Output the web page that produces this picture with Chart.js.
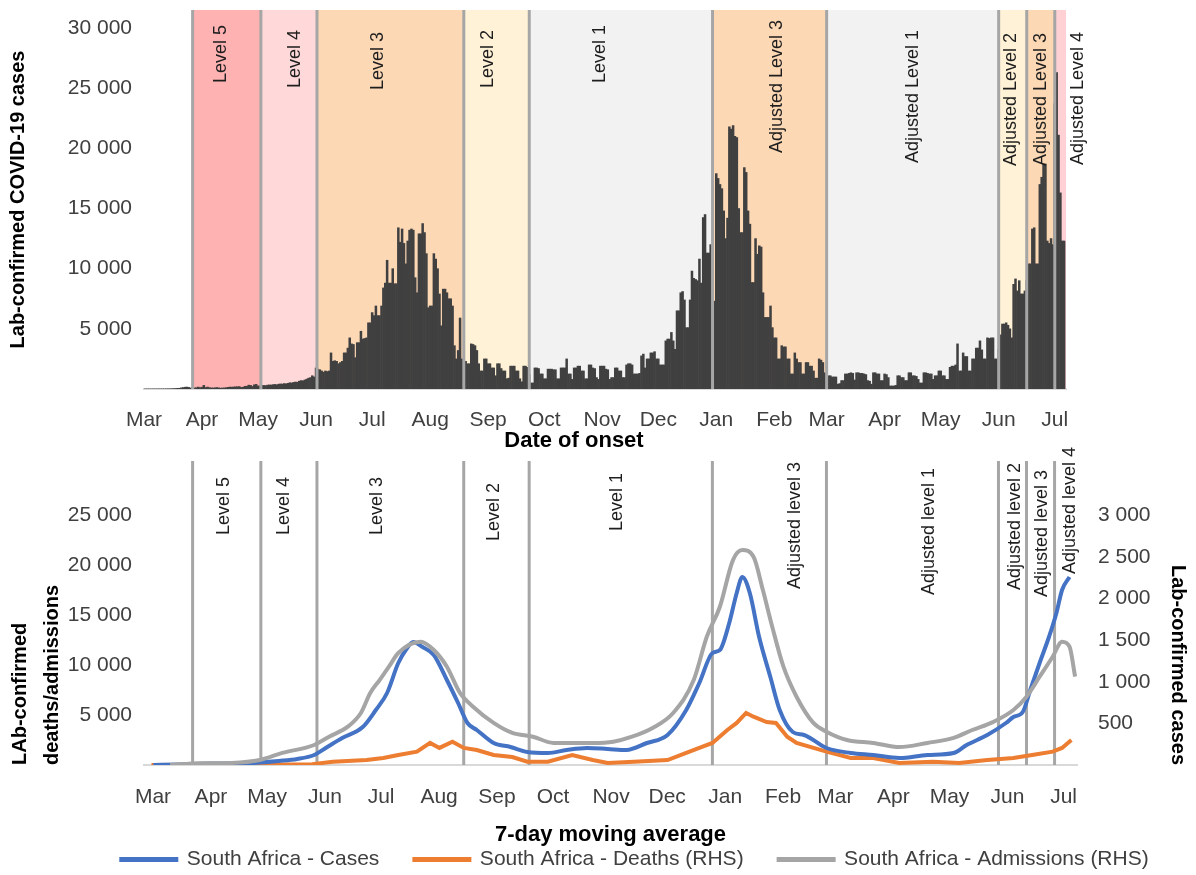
<!DOCTYPE html>
<html>
<head>
<meta charset="utf-8">
<script src="https://cdn.jsdelivr.net/npm/chart.js@4.4.1/dist/chart.umd.min.js"></script>
<style>
  html, body { margin: 0; padding: 0; background: #fff; overflow: hidden; }
  #wrap { position: relative; width: 1196px; height: 875px; }
  #topChart { position: absolute; left: 0; top: 0; }
  #bottomChart { position: absolute; left: 0; top: 440px; }
</style>
</head>
<body>
<div id="wrap">
  <canvas id="topChart" width="1196" height="455"></canvas>
  <canvas id="bottomChart" width="1196" height="440"></canvas>
</div>
<script>
// day 0 = 1 March 2020
const monthTickDays = [0, 31, 61, 92, 122, 153, 184, 214, 245, 275, 306, 337, 365, 396, 426, 457, 487];
const monthTickLabels = ['Mar', 'Apr', 'May', 'Jun', 'Jul', 'Aug', 'Sep', 'Oct', 'Nov', 'Dec', 'Jan', 'Feb', 'Mar', 'Apr', 'May', 'Jun', 'Jul'];

// lockdown levels (start day of each period, last one runs to levelEndDay)
const levelStartDays = [26, 62.5, 92.5, 171, 206, 304, 365, 457, 472, 487];
const levelEndDay = 493;
const topLevelNames = ['Level 5', 'Level 4', 'Level 3', 'Level 2', 'Level 1', 'Adjusted Level 3', 'Adjusted Level 1', 'Adjusted Level 2', 'Adjusted Level 3', 'Adjusted Level 4'];
const bottomLevelNames = ['Level 5', 'Level 4', 'Level 3', 'Level 2', 'Level 1', 'Adjusted level 3', 'Adjusted level 1', 'Adjusted level 2', 'Adjusted level 3', 'Adjusted level 4'];

// daily lab-confirmed cases by date of onset
const dailyCases = [
  // Mar 2020
  0,0,0,0,1,1,1,1,3,4,4,6,7,14,13,20,30,40,55,60,100,120,150,160,130,80,120,90,110,160,110,
  // Apr
  150,300,120,160,110,90,80,100,120,90,70,80,90,110,140,160,150,170,180,190,200,130,150,220,230,320,300,210,350,380,
  // May
  250,260,280,300,280,320,340,330,360,380,350,400,420,410,450,430,470,520,500,550,580,560,650,700,680,750,820,900,950,1100,1000,
  // Jun
  1750,1650,1600,1500,1400,1500,1450,1500,3000,2300,2350,2300,2100,2200,2300,3000,3000,3400,4250,3750,3700,2600,3850,3850,4800,4150,4200,4250,5500,5500,
  // Jul
  6350,6100,6900,6100,6100,6900,8400,8800,10700,8800,8800,10000,8750,8750,13400,12200,13300,12100,10400,12300,13200,13300,13200,9250,8000,12900,12900,13750,13000,11250,6750,
  // Aug
  6900,6900,11250,10800,10000,7900,5250,8300,8300,8000,7500,7500,6900,3600,2500,3200,5900,2500,2400,2300,2100,2100,3750,3700,3600,3200,2100,1500,1500,2500,2500,
  // Sep
  2100,2100,1750,1750,1100,2100,2100,1700,1500,1500,850,900,1900,1900,1900,1500,1500,850,600,1900,1900,1800,1200,500,500,1750,1750,1700,1250,1250,
  // Oct
  850,850,1650,1650,1650,1600,1600,850,850,1750,1750,1750,2500,1250,1250,800,1750,1750,1900,1900,1500,1500,850,850,2000,2000,1750,1700,950,800,1900,
  // Nov
  1900,1900,1650,1600,800,950,950,1750,1750,1500,1500,950,950,2000,2100,2100,2000,1250,1250,1250,1300,2750,2900,1750,2500,2500,3000,3000,3100,2500,
  // Dec
  2500,2000,2000,2000,4000,4150,4150,4700,4000,3300,6500,6500,8000,8100,7400,5100,5100,7400,9800,9200,9100,9000,10800,8800,14250,14500,11300,11300,12000,9000,7300,
  // Jan 2021
  17900,17500,17000,16650,14800,12500,14200,21800,21600,21900,21000,20900,15000,13000,13000,18400,18000,14800,13700,8850,8850,12500,11200,11900,11800,8000,5950,5950,5950,6900,5100,
  // Feb
  4250,4250,2500,2500,3600,3500,3500,2500,2500,1250,1250,3000,2500,2200,2200,1250,1250,2200,2200,1900,1900,1500,900,900,2500,2400,2200,1350,
  // Mar
  1200,1100,1100,1000,1000,1000,400,450,700,700,1250,1250,1300,1350,1300,750,1350,1350,1300,1300,1250,1200,700,650,400,1350,1350,1250,1250,700,700,
  // Apr
  1250,1200,950,250,250,250,300,1100,1100,950,950,700,700,1350,1350,1100,1100,1050,800,500,500,1350,1350,1300,1250,1250,800,1100,1100,1500,
  // May
  1500,1100,1100,800,800,1800,1900,1900,2000,3750,1500,1500,3000,2700,2700,1500,1500,2500,2500,3400,3400,4000,3250,2500,2500,4250,4200,4250,4250,2500,2500,
  // Jun
  3300,4500,5400,5400,5500,5300,5000,4250,8700,9150,8150,9000,7900,7900,8150,9000,10400,10400,13300,13400,10400,10400,17000,17600,18700,18700,12300,12100,12500,12000,
  // Jul
  23700,26300,21100,16300,12300,12300
];

// 7-day moving averages
const casesDays = [5, 20, 35, 50, 62, 72, 82, 91, 98, 106, 117, 124, 130, 136, 140, 144, 149, 155, 162, 168, 173, 178, 187, 196, 205, 216, 226, 237, 248, 258, 269, 280, 290, 297, 304, 308, 313, 317, 320, 324, 329, 335, 340, 347, 353, 365, 378, 390, 404, 419, 433, 440, 451, 461, 465, 470, 474, 479, 484, 488, 491, 495];
const casesValues = [0, 50, 150, 150, 250, 400, 600, 1000, 1800, 2700, 3800, 5500, 7200, 10200, 11500, 12300, 11800, 11000, 8500, 6200, 4200, 3500, 2200, 1800, 1300, 1200, 1500, 1700, 1600, 1500, 2200, 3000, 5500, 8200, 11200, 11500, 14200, 17200, 18800, 17200, 12800, 8800, 5500, 3300, 3000, 1700, 1200, 1000, 700, 1000, 1200, 2000, 3000, 4200, 4800, 5300, 7500, 10200, 12800, 15200, 17500, 18800];

const deathsDays = [4, 60, 90, 101, 119, 128, 136, 146, 153, 158, 165, 171, 178, 187, 197, 205, 216, 229, 240, 248, 262, 280, 290, 297, 304, 312, 317, 322, 326, 333, 338, 344, 349, 365, 378, 390, 404, 422, 436, 451, 465, 475, 486, 491, 496];
const deathsValues = [0, 5, 10, 40, 60, 85, 120, 160, 265, 205, 280, 205, 180, 120, 95, 40, 40, 120, 60, 25, 40, 60, 145, 205, 265, 420, 505, 625, 580, 515, 505, 340, 265, 160, 85, 85, 25, 40, 25, 60, 85, 120, 160, 205, 300];

const admissionsDays = [14, 30, 47, 62, 74, 91, 99, 109, 116, 121, 126, 131, 136, 148, 155, 162, 169, 176, 187, 197, 208, 219, 229, 240, 251, 261, 272, 283, 294, 301, 308, 315, 320, 326, 331, 336, 342, 349, 358, 365, 376, 390, 404, 419, 433, 443, 454, 465, 472, 479, 486, 491, 495, 498];
const admissionsValues = [0, 20, 25, 60, 145, 240, 340, 460, 625, 865, 1020, 1180, 1345, 1480, 1380, 1180, 865, 700, 505, 385, 340, 265, 265, 265, 280, 340, 445, 625, 1020, 1540, 1900, 2460, 2580, 2500, 2100, 1660, 1180, 820, 505, 400, 300, 265, 215, 265, 325, 420, 515, 660, 820, 1060, 1300, 1480, 1420, 1060];

const topYTicks = [5000, 10000, 15000, 20000, 25000, 30000];
const leftYTicks = [5000, 10000, 15000, 20000, 25000];
const rightYTicks = [500, 1000, 1500, 2000, 2500, 3000];

// ---- styling ----
const FONT = "'Liberation Sans', Arial, sans-serif";
Chart.defaults.font.family = FONT;
Chart.defaults.color = '#404040';

const levelColours = ['#FFB2B2', '#FFD9D9', '#FDD8B5', '#FFF2D6', '#F2F2F2', '#FDD8B5', '#F2F2F2', '#FFF2D6', '#FDD8B5', '#FFD0D4'];

const fmt = v => String(v).replace(/\B(?=(\d{3})+(?!\d))/g, ' ');

function drawLevelLines(chart) {
  const { ctx, chartArea: a, scales: { x } } = chart;
  ctx.save();
  ctx.strokeStyle = '#A6A6A6';
  ctx.lineWidth = 3;
  levelStartDays.forEach(d => {
    const px = x.getPixelForValue(d);
    ctx.beginPath();
    ctx.moveTo(px, a.top);
    ctx.lineTo(px, a.bottom);
    ctx.stroke();
  });
  ctx.restore();
}

// bands, separator lines and rotated level names
function makeLevelPlugin(cfg) {
  return {
    id: 'levels',
    beforeDatasetsDraw(chart) {
      const { ctx, chartArea: a, scales: { x } } = chart;
      if (cfg.bands) {
        ctx.save();
        levelStartDays.forEach((d, i) => {
          const end = i < levelStartDays.length - 1 ? levelStartDays[i + 1] : levelEndDay;
          const x0 = x.getPixelForValue(d);
          const x1 = x.getPixelForValue(end);
          ctx.fillStyle = levelColours[i];
          ctx.fillRect(x0, a.top, x1 - x0, a.bottom - a.top);
        });
        ctx.restore();
      }
      if (!cfg.linesOnTop) drawLevelLines(chart);
    },
    afterDatasetsDraw(chart) {
      if (cfg.linesOnTop) drawLevelLines(chart);
      const { ctx, chartArea: a, scales: { x } } = chart;
      ctx.save();
      ctx.font = '18px ' + FONT;
      ctx.fillStyle = '#1e1e1e';
      ctx.textAlign = 'right';
      ctx.textBaseline = 'middle';
      cfg.names.forEach((name, i) => {
        ctx.save();
        ctx.translate(x.getPixelForValue(cfg.labelDays[i]), a.top + cfg.labelTops[i]);
        ctx.rotate(-Math.PI / 2);
        ctx.fillText(name, 0, 0);
        ctx.restore();
      });
      ctx.restore();
    }
  };
}

// x-axis caption of the top panel sits left of the plot centre
const onsetTitle = {
  id: 'onsetTitle',
  afterDraw(chart) {
    const { ctx, scales: { x } } = chart;
    ctx.save();
    ctx.font = 'bold 22px ' + FONT;
    ctx.fillStyle = '#000';
    ctx.textAlign = 'center';
    ctx.textBaseline = 'middle';
    ctx.fillText('Date of onset', x.left + 430, x.bottom - 14);
    ctx.restore();
  }
};

const monthTicks = s => { s.ticks = monthTickDays.map(v => ({ value: v })); };
// fixed axis sizes so both panels share the same day -> pixel mapping
const fixWidth = w => s => { s.width = w; s.paddingTop = 0; s.paddingBottom = 0; };
const fixHeight = h => s => { s.height = h; s.paddingLeft = 0; s.paddingRight = 0; };

// ---- top panel: daily cases ----
new Chart(document.getElementById('topChart'), {
  type: 'bar',
  data: {
    datasets: [{
      data: dailyCases.map((v, i) => ({ x: i, y: v })),
      backgroundColor: '#404040',
      borderWidth: 0,
      barPercentage: 1,
      categoryPercentage: 1
    }]
  },
  options: {
    responsive: false,
    animation: false,
    devicePixelRatio: 1,
    layout: { padding: { top: 10, right: 130, left: 0, bottom: 0 } },
    plugins: { legend: { display: false }, tooltip: { enabled: false } },
    scales: {
      x: {
        type: 'linear', min: 0, max: 493, offset: false,
        grid: { display: false, drawTicks: false },
        border: { display: true, color: '#D9D9D9', width: 2 },
        afterBuildTicks: monthTicks,
        afterFit: fixHeight(66),
        ticks: { autoSkip: false, maxRotation: 0, padding: 19, font: { size: 21 }, callback: (v, i) => monthTickLabels[i] }
      },
      y: {
        min: 0, max: 31500,
        grid: { display: false, drawTicks: false },
        border: { display: false },
        afterBuildTicks: s => { s.ticks = topYTicks.map(v => ({ value: v })); },
        afterFit: fixWidth(144),
        ticks: { padding: 12, font: { size: 21 }, callback: v => fmt(v) },
        title: { display: true, text: 'Lab-confirmed COVID-19 cases', color: '#000', font: { size: 20, weight: 'bold' }, padding: { top: 6, bottom: 0 } }
      }
    }
  },
  plugins: [onsetTitle, makeLevelPlugin({
    bands: true,
    linesOnTop: true,
    names: topLevelNames,
    labelDays: [41, 81, 125, 184, 244, 338.5, 411, 463.5, 479.5, 499.5],
    labelTops: [15, 20, 22, 20, 15, 10, 20, 23, 23, 22]
  })]
});

// ---- bottom panel: 7-day moving averages ----
const toPoints = (days, vals) => days.map((d, i) => ({ x: d, y: vals[i] }));

// the legend row sits a little right of the canvas centre
const legendNudge = {
  id: 'legendNudge',
  afterLayout(chart) {
    if (!chart.legend) return;
    chart.legend.left += 37;
    chart.legend.right += 37;
  }
};

new Chart(document.getElementById('bottomChart'), {
  type: 'line',
  data: {
    datasets: [
      { label: 'South Africa - Cases', data: toPoints(casesDays, casesValues), borderColor: '#4472C4', backgroundColor: '#4472C4', yAxisID: 'y', order: 1, cubicInterpolationMode: 'monotone' },
      { label: 'South Africa - Deaths (RHS)', data: toPoints(deathsDays, deathsValues), borderColor: '#ED7D31', backgroundColor: '#ED7D31', yAxisID: 'y2', order: 2, tension: 0 },
      { label: 'South Africa - Admissions (RHS)', data: toPoints(admissionsDays, admissionsValues), borderColor: '#A5A5A5', backgroundColor: '#A5A5A5', yAxisID: 'y2', order: 0, cubicInterpolationMode: 'monotone' }
    ]
  },
  options: {
    responsive: false,
    animation: false,
    devicePixelRatio: 1,
    layout: { padding: { top: 21, right: 0, left: 0, bottom: 0 } },
    elements: { point: { radius: 0 }, line: { borderWidth: 4 } },
    plugins: {
      tooltip: { enabled: false },
      legend: {
        position: 'bottom',
        labels: {
          boxWidth: 55, boxHeight: 1, padding: 35, color: '#404040',
          font: { size: 21 },
          sort: (a, b) => a.datasetIndex - b.datasetIndex
        }
      }
    },
    scales: {
      x: {
        type: 'linear', min: 0, max: 499, offset: false,
        grid: { display: false, drawTicks: false },
        border: { display: true, color: '#D9D9D9', width: 2 },
        afterBuildTicks: monthTicks,
        afterFit: fixHeight(49),
        ticks: { autoSkip: false, maxRotation: 0, padding: 20, labelOffset: 9, font: { size: 21 }, callback: (v, i) => monthTickLabels[i] },
        title: { display: true, text: '7-day moving average', color: '#000', font: { size: 22, weight: 'bold' }, padding: { top: 0, bottom: -34 } }
      },
      y: {
        position: 'left', min: 0, max: 30400,
        grid: { display: false, drawTicks: false },
        border: { display: false },
        afterBuildTicks: s => { s.ticks = leftYTicks.map(v => ({ value: v })); },
        afterFit: fixWidth(144),
        ticks: { padding: 12, font: { size: 21 }, callback: v => fmt(v) },
        title: { display: true, text: ['LAb-confirmed', 'deaths/admissions'], align: 'start', color: '#000', font: { size: 20, weight: 'bold', lineHeight: 1.6 }, padding: { top: 4, bottom: 0 } }
      },
      y2: {
        position: 'right', min: 0, max: 3650,
        grid: { display: false, drawTicks: false },
        border: { display: false },
        afterBuildTicks: s => { s.ticks = rightYTicks.map(v => ({ value: v })); },
        afterFit: fixWidth(119),
        ticks: { padding: 21, font: { size: 21 }, callback: v => fmt(v) },
        title: { display: true, text: 'Lab-confirmed cases', align: 'start', color: '#000', font: { size: 20, weight: 'bold' }, padding: { top: 6, bottom: 0 } }
      }
    }
  },
  plugins: [legendNudge, makeLevelPlugin({
    bands: false,
    linesOnTop: false,
    names: bottomLevelNames,
    labelDays: [43, 75, 124.5, 187, 253, 348, 420, 466, 480.5, 495.5],
    labelTops: [16, 16, 16, 22, 12, 1, 7, 2, 9, -14]
  })]
});
</script>
</body>
</html>
